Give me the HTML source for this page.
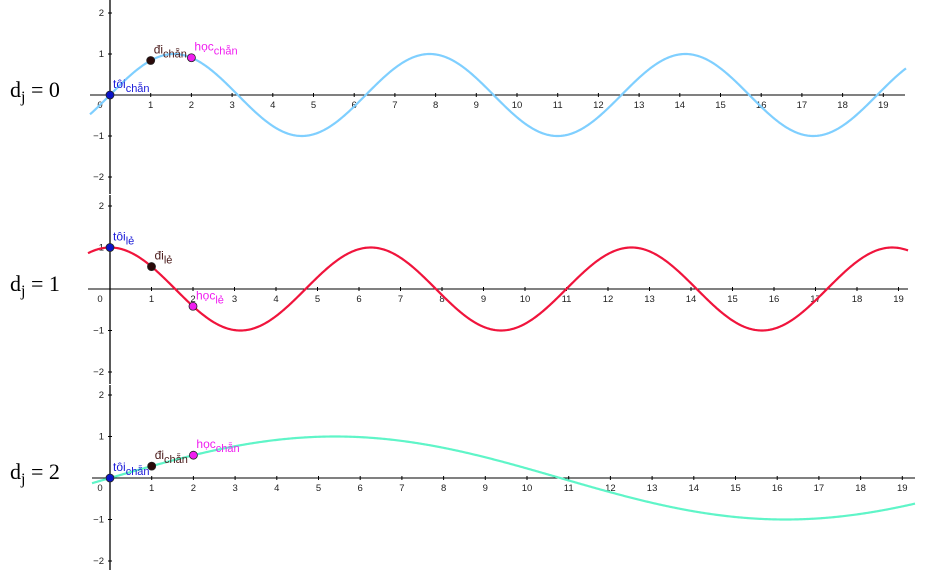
<!DOCTYPE html>
<html><head><meta charset="utf-8"><style>
body{margin:0;background:#fff;width:943px;height:570px;overflow:hidden}
svg{font-family:"Liberation Sans",sans-serif}
</style></head><body>
<svg id="c" width="943" height="570" xmlns="http://www.w3.org/2000/svg"></svg>
<script>
const xTicks=[0,1,2,3,4,5,6,7,8,9,10,11,12,13,14,15,16,17,18,19];
const yTicks=[-2,-1,1,2];
const panelLabels=["0","1","2"];
const omegas=[1,1,0.291];
const phases=[0,Math.PI/2,0];
const colors=["#7fcfff","#f0143c","#5ff5c8"];
const pointX=[0,1,2];
const pointNames=["tôi","đi","học"];
const pointSubs=[["chẵn","chẵn","chẵn"],["lẻ","lẻ","lẻ"],["chẵn","chẵn","chẵn"]];
const pointColors=["#0a14c8","#2a0a0a","#f01ef0"];
const labelColors=["#1a1ad8","#4a1a1a","#f01ef0"];
const P=[{oy:95,ux:40.7,uy:41,x0:90,x1:905,c1:906,top:0,bot:194,ly:97},
         {oy:289,ux:41.5,uy:41.5,x0:88,x1:908,c1:908,top:195,bot:384,ly:291},
         {oy:478,ux:41.7,uy:41.5,x0:92,x1:915,c1:915,top:385,bot:570,ly:479}];
const OX=110;
const svg=document.getElementById('c');
const NS="http://www.w3.org/2000/svg";
function mk(t,a,p){const e=document.createElementNS(NS,t);for(const k in a)e.setAttribute(k,a[k]);(p||svg).appendChild(e);return e;}
P.forEach((p,i)=>{
  const g=mk('g',{});
  
  
  const sx=v=>OX+v*p.ux, sy=v=>p.oy-v*p.uy;
  const xa=mk('line',{x1:p.x0,x2:p.x1,y1:p.oy,y2:p.oy,stroke:'#000','stroke-width':1},g);
  
  
  const ya=mk('line',{x1:OX,x2:OX,y1:p.top,y2:p.bot,stroke:'#000','stroke-width':1.3},g);
  
  
  xTicks.forEach(t=>{
    if(t>0)mk('line',{x1:sx(t),x2:sx(t),y1:p.oy-2,y2:p.oy+2,stroke:'#000'},g);
    const tx=mk('text',{x:t==0?sx(t)-10:sx(t),y:p.oy+13,'font-size':9.5,'text-anchor':'middle',fill:'#222'},g);
    tx.textContent=t;
    
    
  });
  yTicks.forEach(t=>{
    mk('line',{x1:OX-2,x2:OX+2,y1:sy(t),y2:sy(t),stroke:'#000'},g);
    const tx=mk('text',{x:OX-6,y:sy(t)+3,'font-size':9.5,'text-anchor':'end',fill:'#222'},g);
    tx.textContent=t==-1?'−1':t==-2?'−2':t;
    
    
  });
  const f=x=>Math.sin(omegas[i]*x+phases[i]);
  let d='';
  for(let px=p.x0;px<=p.c1;px+=1){const x=(px-OX)/p.ux;d+=(d?'L':'M')+px+','+sy(f(x)).toFixed(2);}
  const c=mk('path',{d:d,fill:'none',stroke:colors[i],'stroke-width':2.2},g);
  
  
  pointX.forEach((x,k)=>{
    const cx=sx(x),cy=sy(f(x));
    const pt=mk('circle',{cx:cx,cy:cy,r:4,fill:pointColors[k],stroke:'#222','stroke-width':0.8},g);
    
    
    const tx=mk('text',{x:cx+3,y:cy-7,'font-size':12,fill:labelColors[k]},g);
    
    
    const a=mk('tspan',{},tx);a.textContent=pointNames[k];
    const b=mk('tspan',{dy:4,'font-size':11},tx);b.textContent=pointSubs[i][k];
  });
  const lab=mk('text',{x:10,y:p.ly,'font-size':22,'font-family':'Liberation Serif, serif',fill:'#000'},g);
  
  
  const l1=mk('tspan',{},lab);l1.textContent='d';
  const l2=mk('tspan',{dy:5,'font-size':16},lab);l2.textContent='j';
  const l3=mk('tspan',{dy:-5},lab);l3.textContent=' = '+panelLabels[i];
});
</script>
</body></html>
